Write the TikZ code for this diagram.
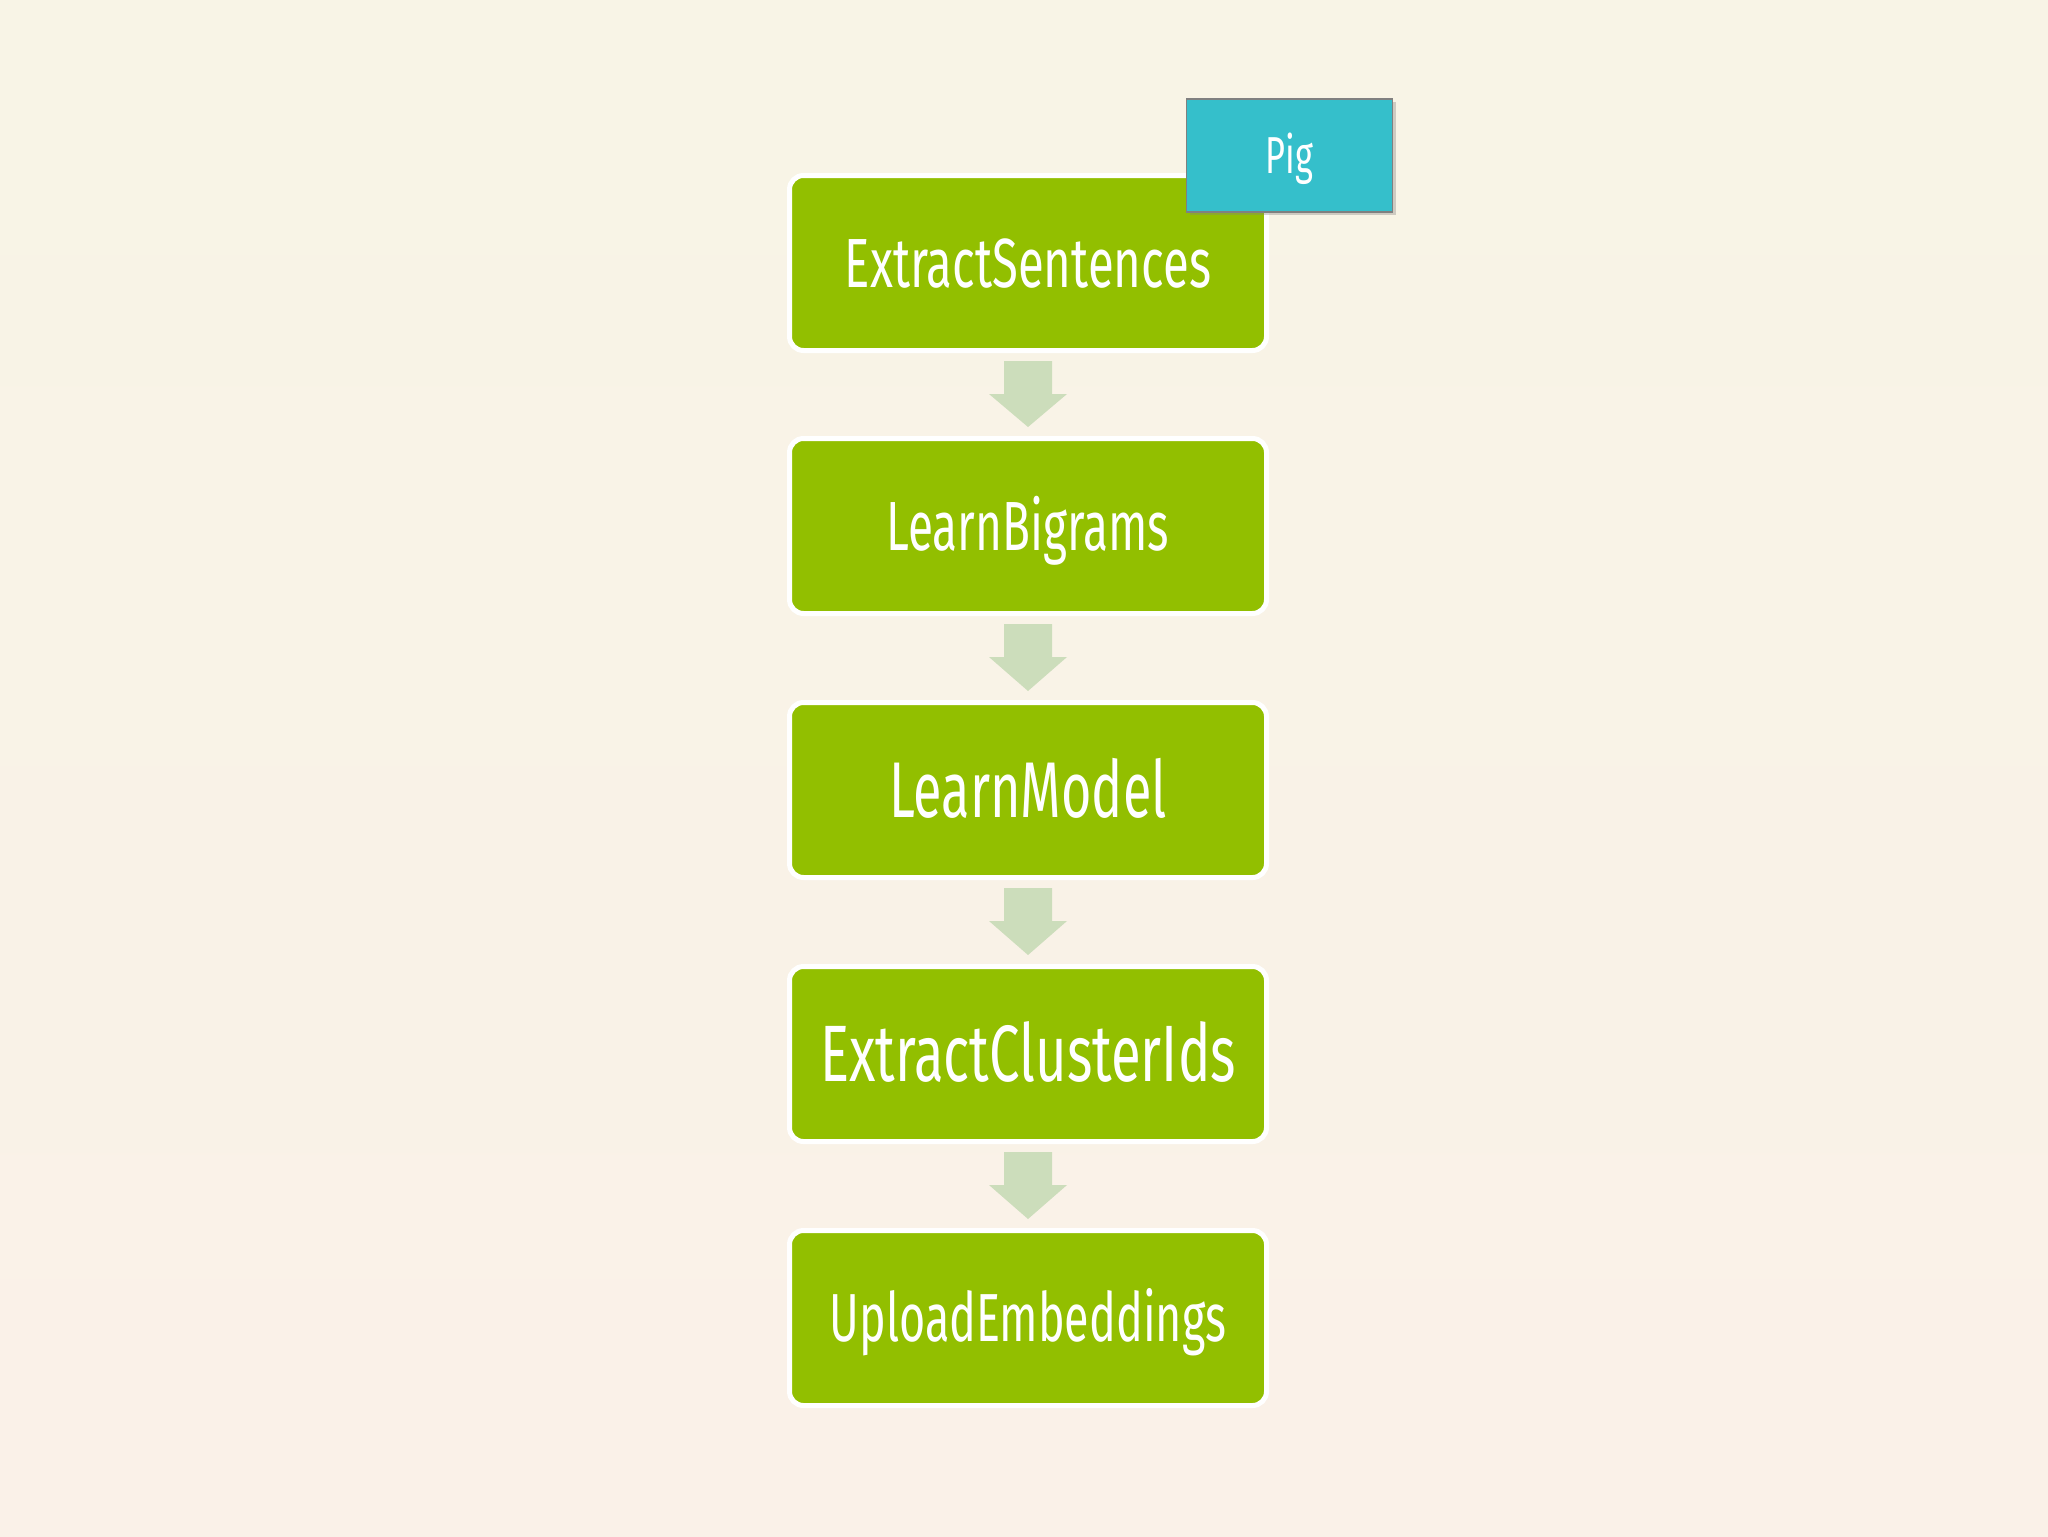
\documentclass[tikz,border=0pt]{standalone}
\usepackage{fontspec}
\setmainfont{Fira Sans}
\newfontfamily\condfont[FakeStretch=0.66]{Fira Sans}
\newfontfamily\condwidefont[FakeStretch=0.68]{Fira Sans}
\usetikzlibrary{calc,shadows}
\definecolor{bgA}{HTML}{F8F4E6}
\definecolor{bgB}{HTML}{FAF1E8}
\definecolor{boxgreen}{HTML}{92BF00}
\definecolor{pigteal}{HTML}{35BFCB}
\definecolor{pigedge}{HTML}{808080}
\definecolor{arrowgreen}{HTML}{CCDDBB}
\tikzset{
  stepbox/.style={draw=white, fill=boxgreen, line width=2.5pt, rounded corners=7pt,
    minimum width=238.5pt, minimum height=87.5pt, outer sep=0pt, inner sep=0pt,
    text=white, align=center, text depth=0pt},
  tagbox/.style={draw=pigedge, fill=pigteal, line width=0.8pt,
    minimum width=103pt, minimum height=56.5pt, outer sep=0pt, inner sep=0pt,
    text=white, text depth=0pt,
    drop shadow={shadow xshift=1.5pt, shadow yshift=-1.5pt, opacity=0.35}},
  flowarrow/.style={fill=arrowgreen, draw=none},
}
\newcommand{\flowdown}[2]{%
  \fill[flowarrow] ($(#1.south)+(-24,10.5)$) -- ($(#1.south)+(24,10.5)$)
    -- ($(#1.south)+(24,43.5)$) -- ($(#1.south)+(39,43.5)$)
    -- ($(#2.north)+(0,-11.5)$)
    -- ($(#1.south)+(-39,43.5)$) -- ($(#1.south)+(-24,43.5)$) -- cycle;}
\begin{document}
\begin{tikzpicture}[x=0.5pt,y=-0.5pt]
  \shade[left color=bgA, right color=bgB, shading angle=0] (0,0) rectangle (2048,1536);
  \path[use as bounding box] (0,0) rectangle (2048,1536);
  \shade[top color=bgA, bottom color=bgB, opacity=0.5] (0,0) rectangle (2048,1536);

  \node[stepbox, text height=24pt, font=\condwidefont\fontsize{34.8pt}{40pt}\selectfont] (s1) at (1028,263) {ExtractSentences};
  \node[stepbox, text height=24pt, font=\condfont\fontsize{34.8pt}{40pt}\selectfont] (s2) at (1028,526) {LearnBigrams};
  \node[stepbox, text height=27.2pt, font=\condfont\fontsize{39.5pt}{46pt}\selectfont] (s3) at (1028,790) {LearnModel};
  \node[stepbox, text height=27.6pt, font=\condwidefont\fontsize{40pt}{46pt}\selectfont] (s4) at (1028,1054) {ExtractClusterIds};
  \node[stepbox, text height=23.4pt, font=\condfont\fontsize{34pt}{40pt}\selectfont] (s5) at (1028,1318) {UploadEmbeddings};

  \node[tagbox, text height=17.9pt, font=\condfont\fontsize{26pt}{30pt}\selectfont] (pig) at (1289.5,155.5) {Pig};

  \flowdown{s1}{s2}
  \flowdown{s2}{s3}
  \flowdown{s3}{s4}
  \flowdown{s4}{s5}
\end{tikzpicture}
\end{document}
